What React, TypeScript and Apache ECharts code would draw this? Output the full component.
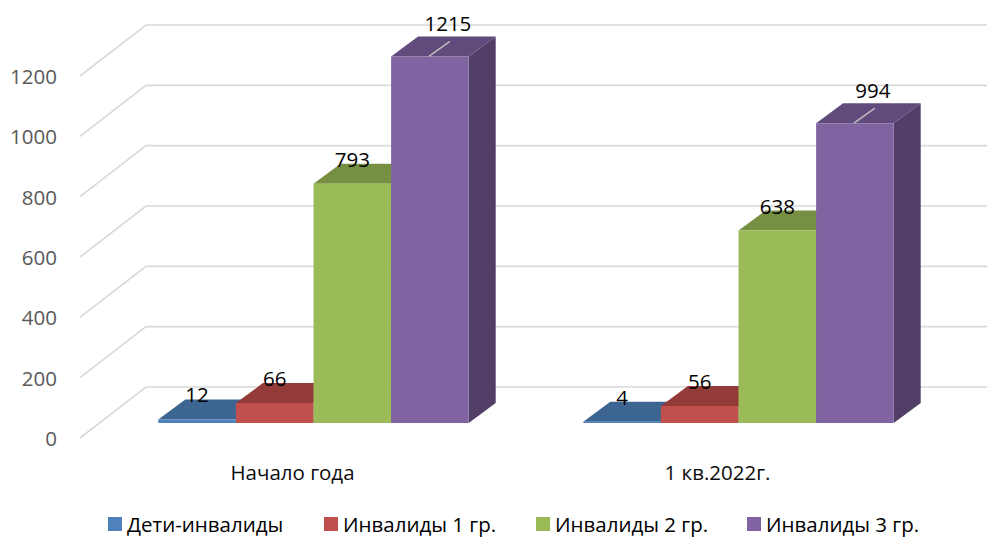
import React, { useEffect, useRef } from "react";
import * as echarts from "echarts";

const categories: string[] = ["Начало года", "1 кв.2022г."];
const seriesNames: string[] = ["Дети-инвалиды", "Инвалиды 1 гр.", "Инвалиды 2 гр.", "Инвалиды 3 гр."];
const childrenValues: number[] = [12, 4];
const group1Values: number[] = [66, 56];
const group2Values: number[] = [793, 638];
const group3Values: number[] = [1215, 994];
const yTicks: number[] = [0, 200, 400, 600, 800, 1000, 1200];

const seriesValues: number[][] = [childrenValues, group1Values, group2Values, group3Values];

const FONT = "'Open Sans', 'Noto Sans', sans-serif";
const FS = 20.5;
const frontColors = ["#4F81BD", "#C0504D", "#9BBB59", "#8064A2"];
const topColors = ["#3D6592", "#923B39", "#768F42", "#614B7C"];
const sideColors = ["#35557D", "#7E3230", "#657A38", "#523F68"];
const legendLefts = [108, 324, 536, 747];

// 3D geometry
const WALL_DX = 66;
const WALL_DY = -51;
const PLANE_DX = 21;
const PLANE_DY = -15;
const DEPTH_DX = 27;
const DEPTH_DY = -20;
const BAR_FRAC = 0.1826;

function wallRender(params: any, api: any) {
  const v = api.value(1);
  const p = api.coord([0, v]);
  const cs = params.coordSys;
  const xF = cs.x;
  const yF = p[1];
  const xB = xF + WALL_DX;
  const yB = yF + WALL_DY;
  const xR = cs.x + cs.width + WALL_DX;
  return {
    type: "polyline",
    shape: { points: [[xF, yF], [xB, yB], [xR, yB]] },
    style: { stroke: "#D9D9D9", lineWidth: 1.6, fill: "none" },
    silent: true,
  };
}

function makeBarRender(si: number) {
  return (params: any, api: any) => {
    const cat = api.value(0);
    const v = api.value(1);
    const topP = api.coord([cat, v]);
    const baseP = api.coord([cat, 0]);
    const band = api.size([1, 0])[0];
    const w = band * BAR_FRAC;
    const x0 = topP[0] - 2 * w + si * w + PLANE_DX;
    const x1 = x0 + w;
    const yT = topP[1] + PLANE_DY;
    const yB = baseP[1] + PLANE_DY;
    const cx = x0 + w / 2;
    const children: any[] = [
      {
        type: "polygon",
        shape: { points: [[x1, yT], [x1 + DEPTH_DX, yT + DEPTH_DY], [x1 + DEPTH_DX, yB + DEPTH_DY], [x1, yB]] },
        style: { fill: sideColors[si] },
      },
      {
        type: "polygon",
        shape: { points: [[x0, yT], [x1, yT], [x1 + DEPTH_DX, yT + DEPTH_DY], [x0 + DEPTH_DX, yT + DEPTH_DY]] },
        style: { fill: topColors[si] },
      },
      {
        type: "rect",
        shape: { x: x0, y: yT, width: w, height: Math.max(yB - yT, 0) },
        style: { fill: frontColors[si] },
      },
    ];
    if (si === 3) {
      children.push({
        type: "line",
        shape: { x1: cx - 1, y1: yT, x2: cx + 20, y2: yT - 15 },
        style: { stroke: "#BFBFBF", lineWidth: 1.5 },
      });
      children.push({
        type: "text",
        style: {
          x: cx + 18,
          y: yT - 33,
          text: String(v),
          fill: "#000000",
          font: `${FS}px ${FONT}`,
          align: "center",
          verticalAlign: "middle",
        },
        z2: 10,
      });
    } else {
      children.push({
        type: "text",
        style: {
          x: cx,
          y: yT - 25,
          text: String(v),
          fill: "#000000",
          font: `${FS}px ${FONT}`,
          align: "center",
          verticalAlign: "middle",
        },
        z2: 10,
      });
    }
    return { type: "group", children };
  };
}

export default function App() {
  const ref = useRef<HTMLDivElement>(null);
  useEffect(() => {
    document.body.style.margin = "0";
    if (!ref.current) return;
    const chart = echarts.init(ref.current, undefined, { renderer: "svg" });
    const barSeries = seriesNames.map((name, si) => ({
      name,
      type: "custom",
      clip: false,
      itemStyle: { color: frontColors[si] },
      renderItem: makeBarRender(si),
      data: seriesValues[si].map((v, ci) => [ci, v]),
      z: 3,
    }));
    chart.setOption({
      animation: false,
      backgroundColor: "#FFFFFF",
      textStyle: { fontFamily: FONT },
      grid: { left: 80, right: 57, top: 76, bottom: 99, containLabel: false },
      legend: seriesNames.map((name, si) => ({
        data: [name],
        left: legendLefts[si],
        top: 513,
        padding: 0,
        icon: "rect",
        itemWidth: 14,
        itemHeight: 14,
        itemGap: 6,
        textStyle: { fontSize: FS, color: "#000000", fontFamily: FONT, lineHeight: 22 },
      })),
      xAxis: {
        type: "category",
        data: categories,
        axisLine: { show: false },
        axisTick: { show: false },
        splitLine: { show: false },
        axisLabel: { fontSize: FS, color: "#0D0D0D", margin: 23, fontFamily: FONT },
      },
      yAxis: {
        type: "value",
        min: 0,
        max: 1200,
        interval: 200,
        axisLine: { show: false },
        axisTick: { show: false },
        splitLine: { show: false },
        axisLabel: {
          fontSize: FS,
          color: "#595959",
          margin: 23,
          fontFamily: FONT,
          formatter: (v: number) => String(v),
        },
      },
      series: [
        {
          name: "wall",
          type: "custom",
          clip: false,
          silent: true,
          renderItem: wallRender,
          data: yTicks.map((t) => [0, t]),
          z: 1,
        },
        ...barSeries,
      ],
    });
    return () => chart.dispose();
  }, []);
  return <div ref={ref} style={{ width: 987, height: 537 }} />;
}
